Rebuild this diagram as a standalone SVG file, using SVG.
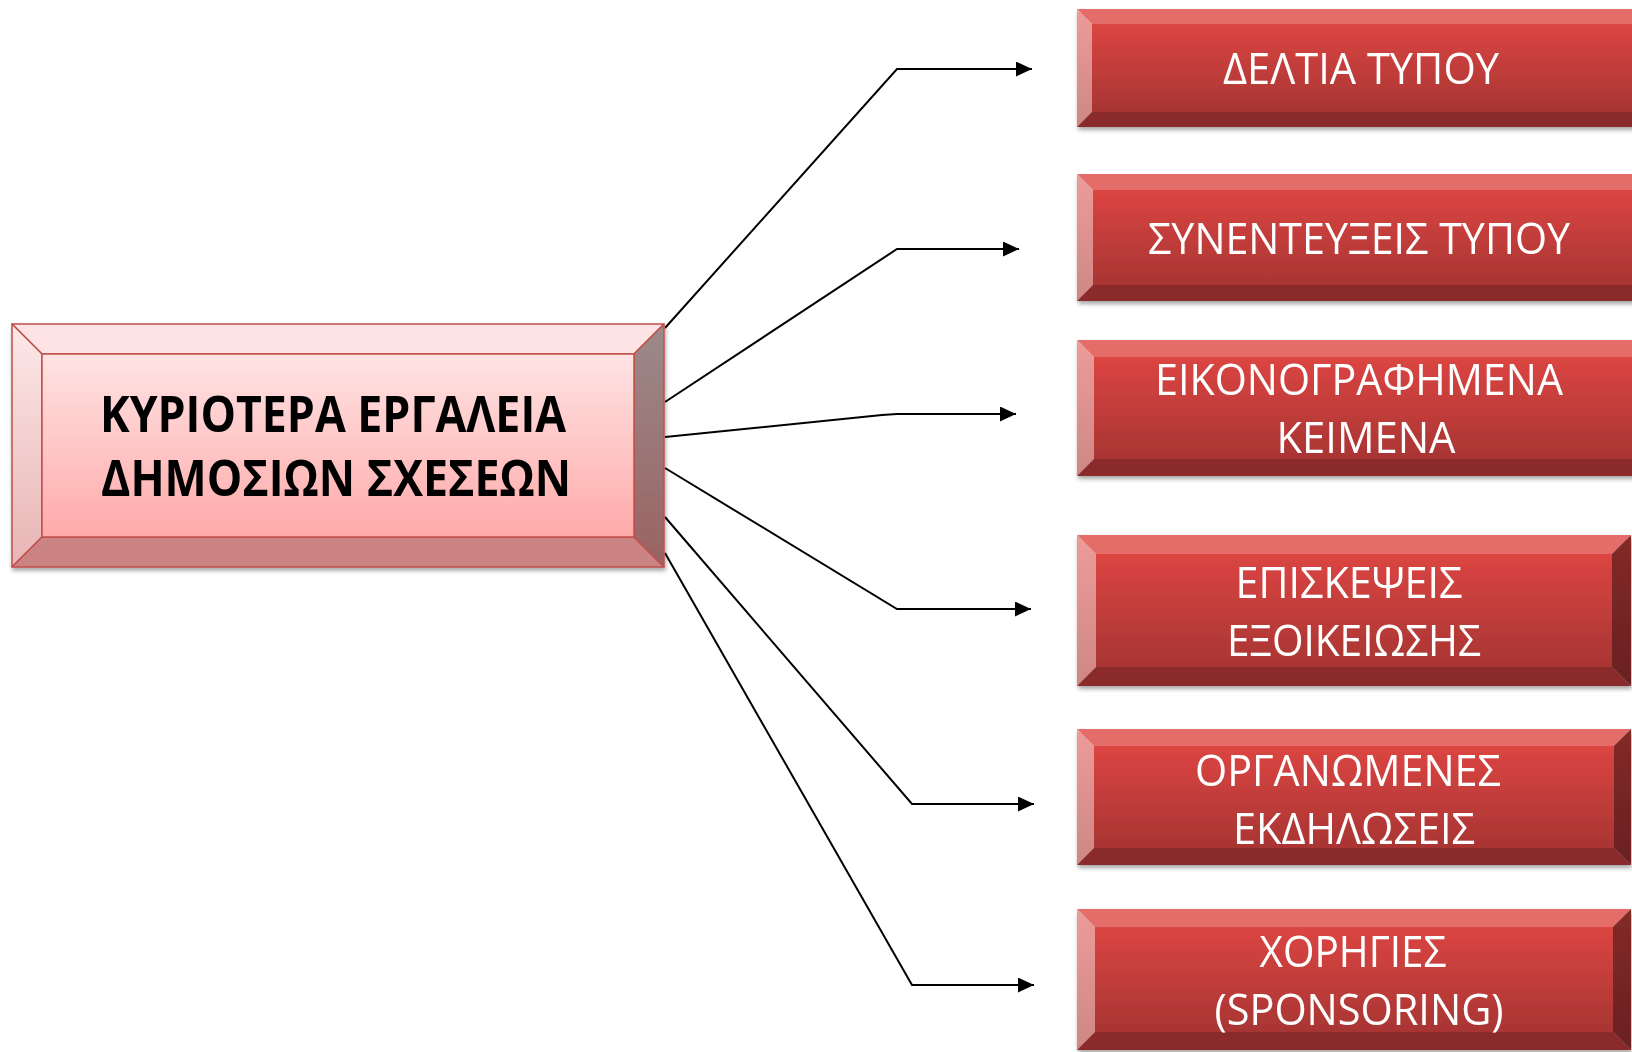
<svg xmlns="http://www.w3.org/2000/svg" width="1632" height="1052" viewBox="0 0 1632 1052">
<style>
.t{font-family:"Open Sans","Noto Sans","DejaVu Sans",sans-serif;fill:#fff;font-size:44px;text-anchor:middle}
.tc{font-family:"Open Sans","Noto Sans","DejaVu Sans",sans-serif;fill:#000;font-size:51px;font-weight:bold;text-anchor:middle}
.rb-top{fill:#E46C69}
.rb-left{fill:url(#rbL)}
.rb-face{fill:url(#rbF)}
.rb-bot{fill:#8B2A29}
.rb-right{fill:url(#rbR)}
.cb{stroke:#C0504D;stroke-width:1.5;stroke-linejoin:round}
.conn{fill:none;stroke:#000;stroke-width:2;marker-end:url(#arr)}
</style>
<defs>
<linearGradient id="rbL" x1="0" y1="0" x2="0" y2="1"><stop offset="0" stop-color="#EC9C99"/><stop offset="1" stop-color="#CF8784"/></linearGradient>
<linearGradient id="rbF" x1="0" y1="0" x2="0" y2="1"><stop offset="0" stop-color="#DB4542"/><stop offset="1" stop-color="#A83533"/></linearGradient>
<linearGradient id="rbR" x1="0" y1="0" x2="0" y2="1"><stop offset="0" stop-color="#822A29"/><stop offset="1" stop-color="#6A2020"/></linearGradient>
<linearGradient id="cbL" x1="0" y1="0" x2="0" y2="1"><stop offset="0" stop-color="#FDE8E8"/><stop offset="1" stop-color="#E8B4B4"/></linearGradient>
<linearGradient id="cbF" x1="0" y1="0" x2="0" y2="1"><stop offset="0" stop-color="#FFE3E3"/><stop offset="1" stop-color="#FFAAAA"/></linearGradient>
<linearGradient id="cbR" x1="0" y1="0" x2="0" y2="1"><stop offset="0" stop-color="#9C8A8A"/><stop offset="1" stop-color="#9A6262"/></linearGradient>
<filter id="sh" x="-5%" y="-10%" width="110%" height="125%"><feDropShadow dx="1" dy="3" stdDeviation="2" flood-color="#000" flood-opacity="0.35"/></filter>
<marker id="arr" markerUnits="userSpaceOnUse" markerWidth="16" markerHeight="16" refX="16" refY="7.5" orient="auto"><path d="M0,0 L16,7.5 L0,15 z" fill="#000"/></marker>
</defs>

<g id="connectors">
<polyline class="conn" points="665,328 897,69 1032,69"/>
<polyline class="conn" points="665,402 897,249 1019,249"/>
<polyline class="conn" points="665,437 882,415 897,414 1016,414"/>
<polyline class="conn" points="665,468 897,609 1031,609"/>
<polyline class="conn" points="665,517 912,804 1034,804"/>
<polyline class="conn" points="665,553 912,985 1034,985"/>
</g>

<g id="central" filter="url(#sh)">
<polygon class="cb" fill="#FDE3E3" points="12,324 664,324 634,354 42,354"/>
<polygon class="cb" fill="url(#cbL)" points="12,324 42,354 42,537 12,567"/>
<polygon class="cb" fill="#CC8383" points="12,567 42,537 634,537 664,567"/>
<polygon class="cb" fill="url(#cbR)" points="664,324 664,567 634,537 634,354"/>
<rect class="cb" fill="url(#cbF)" x="42" y="354" width="592" height="183"/>
<text class="tc" x="333" y="432" textLength="466" lengthAdjust="spacingAndGlyphs">ΚΥΡΙΟΤΕΡΑ ΕΡΓΑΛΕΙΑ</text>
<text class="tc" x="336" y="496" textLength="470" lengthAdjust="spacingAndGlyphs">ΔΗΜΟΣΙΩΝ ΣΧΕΣΕΩΝ</text>
</g>

<g id="node1" filter="url(#sh)">
<polygon class="rb-top" points="1077,9 1649,9 1634,24 1092,24"/>
<polygon class="rb-left" points="1077,9 1092,24 1092,112 1077,127"/>
<polygon class="rb-bot" points="1077,127 1092,112 1634,112 1649,127"/>
<polygon class="rb-right" points="1649,9 1649,127 1634,112 1634,24"/>
<rect class="rb-face" x="1092" y="24" width="542" height="88"/>
<text class="t" x="1361" y="84" textLength="276" lengthAdjust="spacingAndGlyphs">ΔΕΛΤΙΑ ΤΥΠΟΥ</text>
</g>

<g id="node2" filter="url(#sh)">
<polygon class="rb-top" points="1077,174 1649,174 1633,190 1093,190"/>
<polygon class="rb-left" points="1077,174 1093,190 1093,285 1077,301"/>
<polygon class="rb-bot" points="1077,301 1093,285 1633,285 1649,301"/>
<polygon class="rb-right" points="1649,174 1649,301 1633,285 1633,190"/>
<rect class="rb-face" x="1093" y="190" width="540" height="95"/>
<text class="t" x="1359" y="254" textLength="422" lengthAdjust="spacingAndGlyphs">ΣΥΝΕΝΤΕΥΞΕΙΣ ΤΥΠΟΥ</text>
</g>

<g id="node3" filter="url(#sh)">
<polygon class="rb-top" points="1077,340 1649,340 1632,357 1094,357"/>
<polygon class="rb-left" points="1077,340 1094,357 1094,459 1077,476"/>
<polygon class="rb-bot" points="1077,476 1094,459 1632,459 1649,476"/>
<polygon class="rb-right" points="1649,340 1649,476 1632,459 1632,357"/>
<rect class="rb-face" x="1094" y="357" width="538" height="102"/>
<text class="t" x="1359" y="395" textLength="408" lengthAdjust="spacingAndGlyphs">ΕΙΚΟΝΟΓΡΑΦΗΜΕΝΑ</text>
<text class="t" x="1366" y="453" textLength="179" lengthAdjust="spacingAndGlyphs">ΚΕΙΜΕΝΑ</text>
</g>

<g id="node4" filter="url(#sh)">
<polygon class="rb-top" points="1077,535 1631,535 1612,554 1096,554"/>
<polygon class="rb-left" points="1077,535 1096,554 1096,667 1077,686"/>
<polygon class="rb-bot" points="1077,686 1096,667 1612,667 1631,686"/>
<polygon class="rb-right" points="1631,535 1631,686 1612,667 1612,554"/>
<rect class="rb-face" x="1096" y="554" width="516" height="113"/>
<text class="t" x="1349" y="598" textLength="227" lengthAdjust="spacingAndGlyphs">ΕΠΙΣΚΕΨΕΙΣ</text>
<text class="t" x="1354" y="656" textLength="254" lengthAdjust="spacingAndGlyphs">ΕΞΟΙΚΕΙΩΣΗΣ</text>
</g>

<g id="node5" filter="url(#sh)">
<polygon class="rb-top" points="1077,729 1631,729 1614,746 1094,746"/>
<polygon class="rb-left" points="1077,729 1094,746 1094,848 1077,865"/>
<polygon class="rb-bot" points="1077,865 1094,848 1614,848 1631,865"/>
<polygon class="rb-right" points="1631,729 1631,865 1614,848 1614,746"/>
<rect class="rb-face" x="1094" y="746" width="520" height="102"/>
<text class="t" x="1348" y="786" textLength="306" lengthAdjust="spacingAndGlyphs">ΟΡΓΑΝΩΜΕΝΕΣ</text>
<text class="t" x="1354" y="844" textLength="242" lengthAdjust="spacingAndGlyphs">ΕΚΔΗΛΩΣΕΙΣ</text>
</g>

<g id="node6" filter="url(#sh)">
<polygon class="rb-top" points="1077,909 1631,909 1613,927 1095,927"/>
<polygon class="rb-left" points="1077,909 1095,927 1095,1032 1077,1050"/>
<polygon class="rb-bot" points="1077,1050 1095,1032 1613,1032 1631,1050"/>
<polygon class="rb-right" points="1631,909 1631,1050 1613,1032 1613,927"/>
<rect class="rb-face" x="1095" y="927" width="518" height="105"/>
<text class="t" x="1353" y="967" textLength="187" lengthAdjust="spacingAndGlyphs">ΧΟΡΗΓΙΕΣ</text>
<text class="t" x="1359" y="1025" textLength="289" lengthAdjust="spacingAndGlyphs">(SPONSORING)</text>
</g>
</svg>
